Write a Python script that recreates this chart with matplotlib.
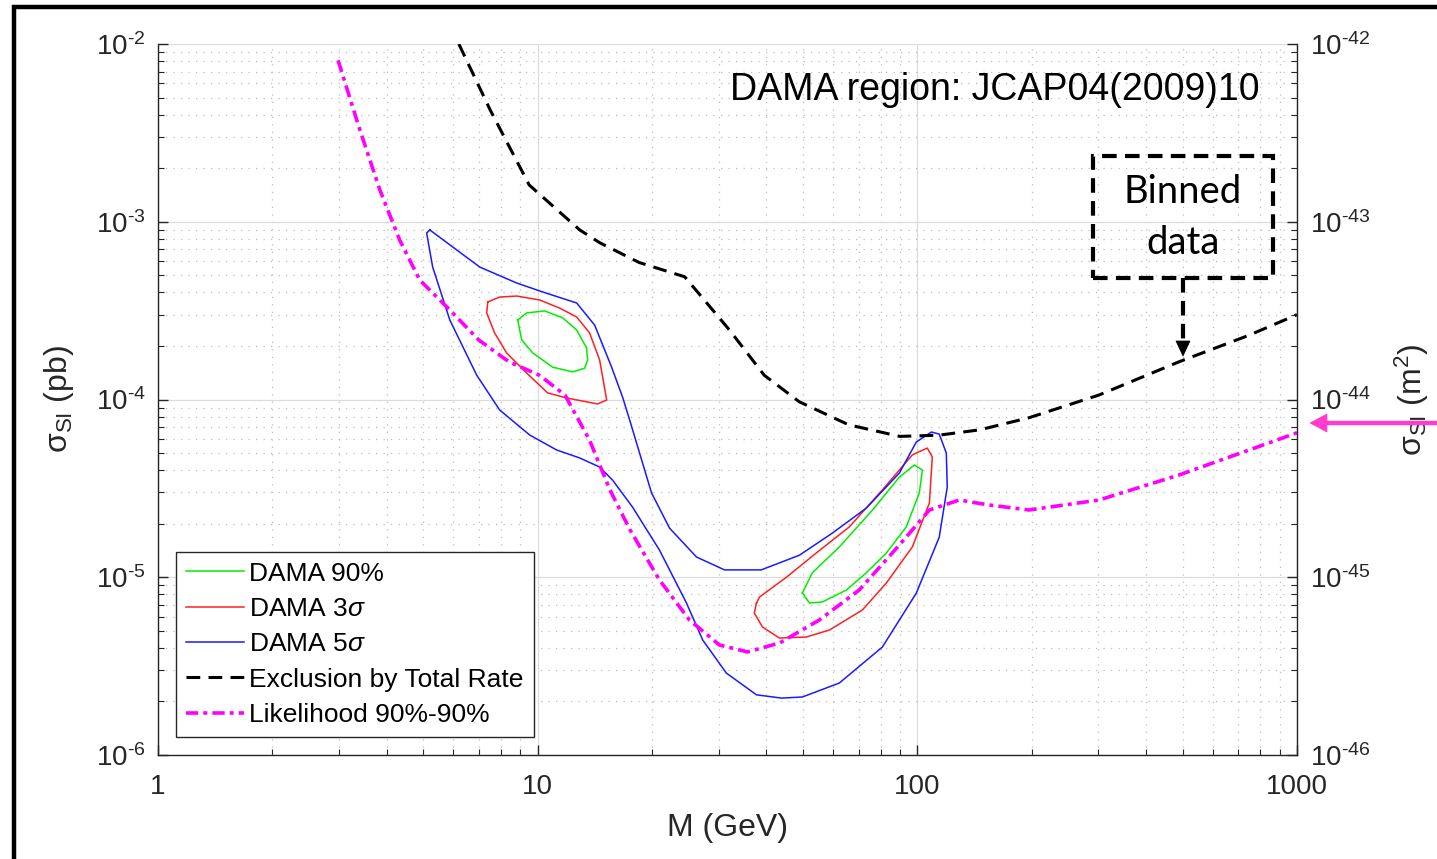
import matplotlib
matplotlib.use("Agg")
import matplotlib.pyplot as plt
from matplotlib.lines import Line2D
from matplotlib.patches import Rectangle, Polygon
from matplotlib.ticker import LogLocator, FixedLocator, FixedFormatter, NullFormatter, FuncFormatter
import numpy as np

plt.rcParams['font.family'] = ['Liberation Sans', 'DejaVu Sans']
plt.rcParams['mathtext.fontset'] = 'custom'
plt.rcParams['mathtext.rm'] = 'Liberation Sans'
plt.rcParams['mathtext.it'] = 'Liberation Sans:italic'
plt.rcParams['mathtext.default'] = 'regular'
plt.rcParams['axes.unicode_minus'] = False

# ---------------- data (M in GeV, sigma in pb) ----------------
excl_M = [6.2, 7.5, 9.5, 12.9, 14.6, 18.5, 24.4, 26.7, 32, 39.5, 48.9, 66, 90, 114, 146, 197, 301, 489, 748, 1000]
excl_s = [1.0e-2, 4.25e-3, 1.61e-3, 9.0e-4, 7.6e-4, 5.9e-4, 4.9e-4, 3.9e-4, 2.46e-4, 1.37e-4,
          9.7e-5, 7.2e-5, 6.2e-5, 6.3e-5, 6.75e-5, 7.9e-5, 1.06e-4, 1.63e-4, 2.3e-4, 3.0e-4]

like_M = [2.98, 3.4, 3.84, 4.33, 4.89, 5.86, 7.0, 8.4, 10.1, 11.8, 13.7, 15.5, 17.5, 20.9, 25.1, 30.1,
          35.7, 43.4, 55.2, 70.4, 89.7, 107.6, 129, 154.6, 197, 301, 489, 748, 1000]
like_s = [8.1e-3, 3.3e-3, 1.51e-3, 7.9e-4, 4.7e-4, 3.2e-4, 2.16e-4, 1.63e-4, 1.37e-4, 1.06e-4, 5.9e-5,
          3.1e-5, 1.85e-5, 9.7e-6, 5.75e-6, 4.16e-6, 3.8e-6, 4.27e-6, 5.75e-6, 8.5e-6, 1.52e-5, 2.39e-5,
          2.72e-5, 2.55e-5, 2.39e-5, 2.72e-5, 3.76e-5, 5.2e-5, 6.5e-5]

# DAMA 5 sigma (single closed contour)
d5_M = [5.20, 7.04, 8.81, 10.3, 12.67, 14.13, 15.66, 16.74, 17.47, 19.95, 22.25, 26.2, 31.05, 38.8,
        48.9, 59.7, 73.4, 89.7, 99.4, 108.9, 114.2, 119.2, 119.9, 114.2, 99.4, 80.9, 62.3, 49.8, 43.9,
        37.7, 31.4, 27.2, 24.66, 20.94, 17.78, 15.75, 14.56, 12.9, 11.22, 9.53, 7.94, 6.91, 5.87, 5.29, 5.10, 5.20]
d5_s = [8.99e-4, 5.56e-4, 4.52e-4, 4.03e-4, 3.49e-4, 2.62e-4, 1.52e-4, 1.03e-4, 7.67e-5, 2.98e-5, 1.89e-5,
        1.30e-5, 1.10e-5, 1.10e-5, 1.33e-5, 1.77e-5, 2.45e-5, 3.86e-5, 5.77e-5, 6.56e-5, 6.39e-5, 5.0e-5,
        3.22e-5, 1.68e-5, 8.15e-6, 4.05e-6, 2.54e-6, 2.12e-6, 2.09e-6, 2.18e-6, 2.89e-6, 4.44e-6, 7.16e-6,
        1.42e-5, 2.48e-5, 3.52e-5, 4.17e-5, 4.69e-5, 5.20e-5, 6.31e-5, 8.73e-5, 1.37e-4, 2.80e-4, 5.56e-4,
        8.65e-4, 8.99e-4]

# DAMA 3 sigma (two lobes)
d3a_M = [7.39, 7.94, 8.81, 10.12, 11.42, 12.67, 13.7, 14.56, 15.2, 14.38, 11.92, 10.62, 9.35, 8.28, 7.7, 7.34, 7.39]
d3a_s = [3.54e-4, 3.77e-4, 3.82e-4, 3.63e-4, 3.27e-4, 2.91e-4, 2.37e-4, 1.67e-4, 9.93e-5, 9.44e-5,
         1.02e-4, 1.09e-4, 1.41e-4, 1.83e-4, 2.37e-4, 3.07e-4, 3.54e-4]
d3b_M = [37.7, 38.4, 45.2, 54.2, 66.2, 80.9, 97.0, 106.2, 109.5, 107.6, 97.0, 82.9, 71.7, 58.7, 51.0, 43.3, 39.1, 37.2, 37.7]
d3b_s = [7.16e-6, 7.74e-6, 1.0e-5, 1.37e-5, 1.92e-5, 3.10e-5, 4.88e-5, 5.33e-5, 4.75e-5, 2.62e-5, 1.48e-5,
         9.29e-6, 6.55e-6, 5.05e-6, 4.61e-6, 4.55e-6, 5.25e-6, 6.29e-6, 7.16e-6]

# DAMA 90% (two lobes)
d90a_M = [8.86, 9.35, 10.43, 11.64, 12.67, 13.45, 13.54, 13.3, 12.36, 10.95, 9.70, 9.08, 8.86]
d90a_s = [2.80e-4, 3.07e-4, 3.15e-4, 2.88e-4, 2.46e-4, 1.95e-4, 1.67e-4, 1.50e-4, 1.43e-4, 1.52e-4,
          1.83e-4, 2.16e-4, 2.80e-4]
d90b_M = [49.8, 52.9, 62.3, 76.2, 89.7, 98.2, 103.1, 101.2, 93.5, 82.9, 73.4, 65.0, 56.2, 52.0, 49.8]
d90b_s = [8.15e-6, 1.06e-5, 1.48e-5, 2.39e-5, 3.66e-5, 4.28e-5, 4.01e-5, 2.98e-5, 1.92e-5, 1.37e-5,
          1.06e-5, 8.47e-6, 7.26e-6, 7.16e-6, 8.15e-6]

x_ticks = [1, 10, 100, 1000]
x_tick_labels = ['1', '10', '100', '1000']

# ---------------- figure ----------------
W, H = 1437, 859
fig = plt.figure(figsize=(W / 100, H / 100), dpi=100)
fig.patch.set_facecolor('white')

def fx(px):
    return px / W

def fy(py):
    return 1 - py / H

def pow_label(v, pos):
    e = int(round(np.log10(v)))
    sign = r'\text{-}' if e < 0 else ''
    return r'$10^{%s%d}$' % (sign, abs(e))

ax = fig.add_axes([fx(158), fy(755), (1297 - 158) / W, (755 - 44) / H])
ax.set_xscale('log')
ax.set_yscale('log')
ax.set_xlim(1, 1000)
ax.set_ylim(1e-6, 1e-2)

tc = '#262626'
ax.grid(True, which='major', color='#dcdcdc', lw=0.9, ls='-')
ax.grid(True, which='minor', color='#bdbdbd', lw=0.9, ls=(0, (1, 5)))
ax.set_axisbelow(True)

ax.xaxis.set_major_locator(FixedLocator(x_ticks))
ax.xaxis.set_major_formatter(FixedFormatter(x_tick_labels))
ax.xaxis.set_minor_locator(LogLocator(base=10, subs=np.arange(2, 10)))
ax.xaxis.set_minor_formatter(NullFormatter())
ax.yaxis.set_major_locator(LogLocator(base=10, numticks=10))
ax.yaxis.set_major_formatter(FuncFormatter(pow_label))
ax.yaxis.set_minor_locator(LogLocator(base=10, subs=np.arange(2, 10), numticks=20))
ax.yaxis.set_minor_formatter(NullFormatter())

for s in ['top', 'right']:
    ax.spines[s].set_visible(False)
for s in ['left', 'bottom']:
    ax.spines[s].set_color(tc)
    ax.spines[s].set_linewidth(1.0)

ax.tick_params(which='both', direction='in', top=False, right=False, color=tc, labelcolor=tc, labelsize=20)
ax.tick_params(which='major', length=7, width=1.0)
ax.tick_params(which='minor', length=4, width=0.8)
ax.tick_params(axis='x', which='major', pad=14)
ax.tick_params(axis='y', which='major', pad=9)

# curves
ax.plot(d90a_M, d90a_s, color='#00ee00', lw=1.1, label='DAMA 90%')
ax.plot(d90b_M, d90b_s, color='#00ee00', lw=1.1)
ax.plot(d3a_M, d3a_s, color='#ff2020', lw=1.1, label=r'DAMA 3$\it{\sigma}$')
ax.plot(d3b_M, d3b_s, color='#ff2020', lw=1.1)
ax.plot(d5_M, d5_s, color='#1a1aff', lw=1.1, label=r'DAMA 5$\it{\sigma}$')
ax.plot(excl_M, excl_s, color='black', lw=2.2, ls=(0, (4.5, 2.7)), label='Exclusion by Total Rate')
ax.plot(like_M, like_s, color='#ff00ff', lw=2.6, ls=(0, (3.4, 1.4, 1.1, 1.4)), label='Likelihood 90%-90%')

ax.set_xlabel('M (GeV)', fontsize=23, color=tc)
ax.xaxis.set_label_coords(0.5, -0.082)
ax.set_ylabel(r'$\sigma_{\mathrm{SI}}$ (pb)', fontsize=23, color=tc)
ax.yaxis.set_label_coords(-0.072, 0.5)

leg = ax.legend(loc='lower left', bbox_to_anchor=((176 - 158) / 1139, (755 - 737) / 711),
                borderaxespad=0, fontsize=19, frameon=True, fancybox=False, framealpha=1,
                edgecolor=tc, handlelength=2.2, handletextpad=0.2, labelspacing=0.43,
                borderpad=0.38)
leg.get_frame().set_linewidth(1.0)

# right axis (m^2)
ax2 = ax.twinx()
ax2.set_yscale('log')
ax2.set_ylim(1e-46, 1e-42)
ax2.yaxis.set_major_locator(LogLocator(base=10, numticks=10))
ax2.yaxis.set_major_formatter(FuncFormatter(pow_label))
ax2.yaxis.set_minor_locator(LogLocator(base=10, subs=np.arange(2, 10), numticks=20))
ax2.yaxis.set_minor_formatter(NullFormatter())
for s in ['top', 'left', 'bottom']:
    ax2.spines[s].set_visible(False)
ax2.spines['right'].set_color(tc)
ax2.spines['right'].set_linewidth(1.0)
ax2.tick_params(which='both', direction='in', color=tc, labelcolor=tc, labelsize=20)
ax2.tick_params(which='major', length=7, width=1.0, pad=9)
ax2.tick_params(which='minor', length=4, width=0.8)
ax2.set_ylabel(r'$\sigma_{\mathrm{SI}}$ (m$^2$)', fontsize=23, color=tc)
ax2.yaxis.set_label_coords(1.084, 0.5)

# annotation text
ax.text(0.9675, 0.935, 'DAMA region: JCAP04(2009)10', transform=ax.transAxes,
        ha='right', va='center', fontsize=27, color='black')

# Binned data box and dashed arrow
dash = (0, (3.5, 2.0))
fig.add_artist(Rectangle((fx(1093), fy(278)), (1273 - 1093) / W, (278 - 156) / H,
                         transform=fig.transFigure, fill=False, ec='black', lw=3, ls=dash))
fig.text(fx(1183), fy(192), 'Binned', ha='center', va='center', fontsize=27.5,
         family=['Lato', 'DejaVu Sans'], color='black')
fig.text(fx(1183), fy(243), 'data', ha='center', va='center', fontsize=27.5,
         family=['Lato', 'DejaVu Sans'], color='black')
fig.add_artist(Line2D([fx(1183), fx(1183)], [fy(278), fy(343)], transform=fig.transFigure,
                      color='black', lw=3, ls=dash))
fig.add_artist(Polygon([[fx(1183), fy(356)], [fx(1176), fy(341)], [fx(1190), fy(341)]],
                       closed=True, transform=fig.transFigure, fc='black', ec='black', lw=0.5))

# pink arrow on right edge
pink = '#ff3ccc'
fig.add_artist(Line2D([fx(1324), fx(1437)], [fy(423), fy(423)], transform=fig.transFigure,
                      color=pink, lw=3.2, solid_capstyle='butt'))
fig.add_artist(Polygon([[fx(1310), fy(423)], [fx(1327), fy(414)], [fx(1327), fy(432)]],
                       closed=True, transform=fig.transFigure, fc=pink, ec=pink, lw=0.5))

# black slide frame
fig.add_artist(Line2D([fx(13.5), fx(13.5)], [fy(5), 0], transform=fig.transFigure,
                      color='black', lw=3.2, solid_capstyle='butt'))
fig.add_artist(Line2D([fx(12), 1], [fy(7), fy(7)], transform=fig.transFigure,
                      color='black', lw=3.2, solid_capstyle='butt'))

fig.savefig('out.png', dpi=100)
